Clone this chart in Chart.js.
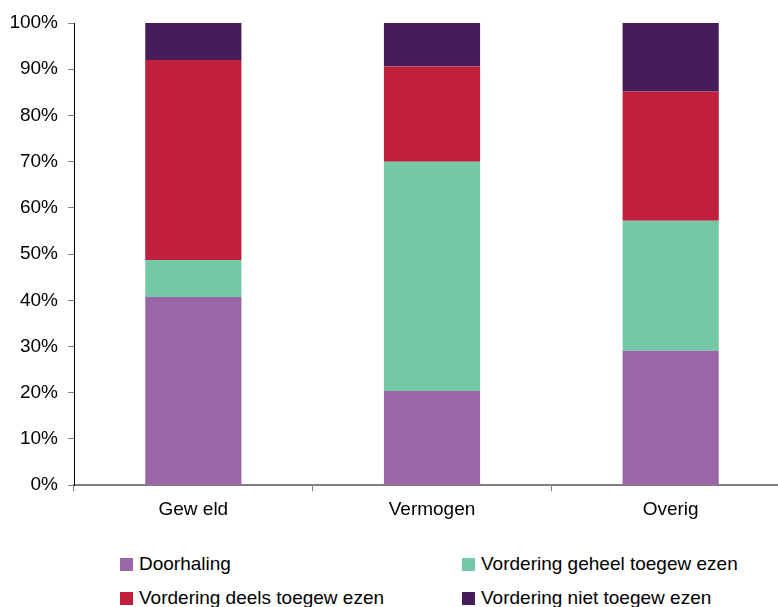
<!DOCTYPE html>
<html>
<head>
<meta charset="utf-8">
<script src="https://cdn.jsdelivr.net/npm/chart.js@4.4.0/dist/chart.umd.min.js"></script>
<style>
  html, body { margin: 0; padding: 0; background: #fff; overflow: hidden; }
  body { width: 778px; height: 607px; position: relative; font-family: "Liberation Sans", Arial, sans-serif; }
  #wrap { position: absolute; left: 0; top: 0; width: 790px; height: 528px; }
  #legend { position: absolute; left: 0; top: 553px; width: 778px; font-size: 19px; color: #000; }
  .item { position: absolute; display: flex; align-items: center; white-space: nowrap; }
  .sw { width: 13px; height: 13px; margin-right: 6px; }
</style>
</head>
<body>
<div id="wrap"><canvas id="chart"></canvas></div>
<div id="legend"></div>
<script>
// Categories and stacked shares (%)
const categories = ["Gew eld", "Vermogen", "Overig"];
const seriesNames = ["Doorhaling", "Vordering geheel toegew ezen", "Vordering deels toegew ezen", "Vordering niet toegew ezen"];
const doorhaling = [40.7, 20.4, 29.1];
const geheel     = [8.0, 49.6, 28.1];
const deels      = [43.3, 20.6, 28.0];
const niet       = [8.0, 9.4, 14.8];
const colors = ["#9A66A8", "#74C8A6", "#C11F3E", "#461D5A"];

const values = [doorhaling, geheel, deels, niet];

Chart.defaults.font.family = '"Liberation Sans", Arial, sans-serif';
Chart.defaults.font.size = 19;
Chart.defaults.color = "#000";

const chart = new Chart(document.getElementById("chart"), {
  type: "bar",
  data: {
    labels: categories,
    datasets: values.map((v, i) => ({
      label: seriesNames[i],
      data: v,
      backgroundColor: colors[i],
      borderWidth: 0,
      barPercentage: 0.403,
      categoryPercentage: 1
    }))
  },
  options: {
    responsive: true,
    maintainAspectRatio: false,
    animation: false,
    layout: { padding: { top: 23, right: 0, left: 0, bottom: 0 } },
    plugins: { legend: { display: false }, tooltip: { enabled: false } },
    scales: {
      x: {
        stacked: true,
        grid: { display: true, drawOnChartArea: false, offset: true, tickLength: 6, color: "#808080" },
        border: { display: true, color: "#808080", width: 2 },
        ticks: { padding: 7 }
      },
      y: {
        stacked: true,
        min: 0,
        max: 100,
        afterFit: s => { s.width = 74; },
        grid: { display: true, drawOnChartArea: false, tickLength: 6, color: "#808080" },
        border: { display: true, color: "#000", width: 1 },
        ticks: { stepSize: 10, padding: 10, callback: v => v + "%" }
      }
    }
  }
});

// 2x2 legend laid out like the original
const legend = document.getElementById("legend");
const pos = [[120, 0], [462, 0], [120, 34], [462, 34]];
seriesNames.forEach((name, i) => {
  const d = document.createElement("div");
  d.className = "item";
  d.style.left = pos[i][0] + "px";
  d.style.top = pos[i][1] + "px";
  d.innerHTML = '<span class="sw" style="background:' + colors[i] + '"></span><span>' + name + '</span>';
  legend.appendChild(d);
});
</script>
</body>
</html>
